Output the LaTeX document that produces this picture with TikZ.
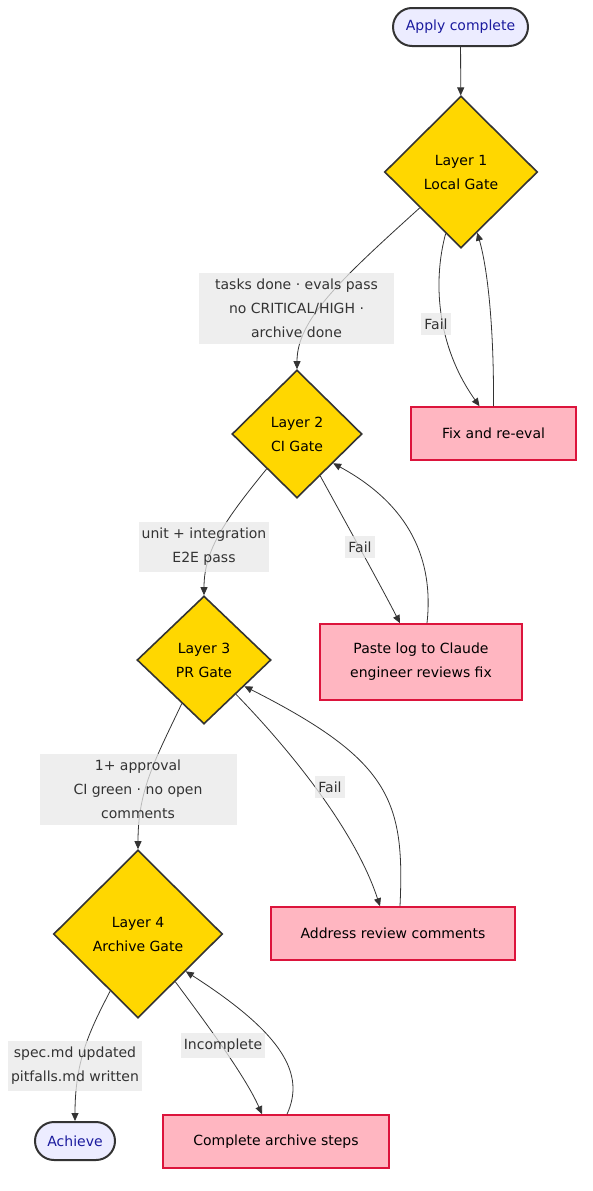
\documentclass[tikz,border=0pt]{standalone}
\usepackage{fontspec}
\setmainfont{DejaVu Sans}
\usetikzlibrary{shapes.geometric,arrows.meta}
\definecolor{termfill}{HTML}{ECECFF}
\definecolor{termtext}{HTML}{1A1A9E}
\definecolor{gatefill}{HTML}{FFD700}
\definecolor{fixfill}{HTML}{FFB6C1}
\definecolor{fixdraw}{HTML}{DC143C}
\definecolor{labelfill}{HTML}{E8E8E8}
\definecolor{linecol}{HTML}{333333}

\begin{document}
\begin{tikzpicture}[x=1pt, y=-1pt,
    font=\fontsize{14}{24}\selectfont,
    terminal/.style={rectangle, rounded corners=19pt, draw=linecol, line width=2pt, fill=termfill, text=termtext, minimum height=38pt},
    gate/.style={diamond, draw=linecol, line width=1.6pt, fill=gatefill, inner sep=0pt, align=center},
    fixbox/.style={rectangle, draw=fixdraw, line width=1.6pt, fill=fixfill, minimum height=53pt, align=center},
    edgelabel/.style={fill=labelfill, fill opacity=0.75, text opacity=1, text=linecol, inner xsep=3pt, inner ysep=6pt, align=center},
    flow/.style={draw=linecol, line width=0.8pt, -{Triangle[length=8pt,width=7pt]}}
]
\useasboundingbox (0,0) rectangle (592,1191);

% Nodes
\node[terminal, minimum width=135pt] (apply) at (460.5,27) {Apply complete};
\node[gate, minimum width=153pt, minimum height=152pt] (layer1) at (461,172) {Layer 1\\Local Gate};
\node[fixbox, minimum width=165pt] (fix) at (493.5,433.5) {Fix and re-eval};
\node[gate, minimum width=130pt, minimum height=128pt] (layer2) at (297,434) {Layer 2\\CI Gate};
\node[fixbox, minimum width=202pt, minimum height=76pt] (paste) at (421,662) {Paste log to Claude\\engineer reviews fix};
\node[gate, minimum width=134pt, minimum height=128pt] (layer3) at (204,660) {Layer 3\\PR Gate};
\node[fixbox, minimum width=244pt] (address) at (393,933.5) {Address review comments};
\node[gate, minimum width=169pt, minimum height=168pt] (layer4) at (138,934) {Layer 4\\Archive Gate};
\node[terminal, minimum width=80pt] (achieve) at (75,1141) {Achieve};
\node[fixbox, minimum width=226pt] (complete) at (276,1141.5) {Complete archive steps};

% Edges
\draw[flow] (apply) -- (layer1);
\draw[flow] (layer1.221) .. controls (340,280) and (297,320) .. (layer2.north);
\draw[flow] (layer1.256) .. controls (433,280) and (436,345) .. ([xshift=-14pt]fix.north);
\draw[flow] (fix.north) .. controls (494,330) and (488,270) .. (layer1.285);
\draw[flow] (layer2.229) .. controls (225,520) and (204,550) .. (layer3.north);
\draw[flow] (layer2.299) .. controls (340,512) and (382,588) .. ([xshift=-21pt]paste.north);
\draw[flow] ([xshift=6pt]paste.north) .. controls (434,560) and (410,505) .. (layer2.321);
\draw[flow] (layer3.243) .. controls (155,760) and (138,790) .. (layer4.north);
\draw[flow] (layer3.313) .. controls (290,750) and (355,830) .. ([xshift=-13pt]address.north);
\draw[flow] ([xshift=7pt]address.north) .. controls (405,800) and (390,760) .. (layer3.327);
\draw[flow] (layer4.244) .. controls (90,1030) and (75,1060) .. (achieve.north);
\draw[flow] (layer4.308) .. controls (200,1015) and (245,1075) .. ([xshift=-14pt]complete.north);
\draw[flow] ([xshift=11pt]complete.north) .. controls (305,1075) and (285,1035) .. (layer4.322);

% Edge labels
\node[edgelabel, minimum width=195pt] (pass1) at (296.5,308.5) {tasks done · evals pass\\no CRITICAL/HIGH ·\\archive done};
\node[edgelabel] (fail1) at (436,324) {Fail};
\node[edgelabel] (pass2) at (204,547) {unit + integration\\E2E pass};
\node[edgelabel] (fail2) at (360,547) {Fail};
\node[edgelabel, minimum width=197pt] (pass3) at (138,789.5) {1+ approval\\CI green · no open\\comments};
\node[edgelabel] (fail3) at (330,787) {Fail};
\node[edgelabel] (pass4) at (75,1066) {spec.md updated\\pitfalls.md written};
\node[edgelabel] (fail4) at (223,1045.5) {Incomplete};

\end{tikzpicture}
\end{document}
